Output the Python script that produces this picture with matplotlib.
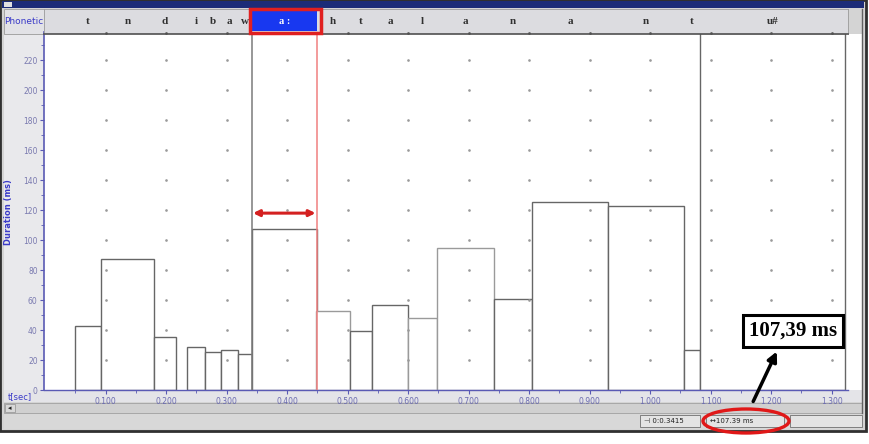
import numpy as np
import matplotlib
matplotlib.use("Agg")
import matplotlib.pyplot as plt
from matplotlib.patches import Rectangle, Ellipse, FancyArrowPatch

# segment data (times in s, durations in ms)
seg_labels = ['t', 'n', 'd', 'i', 'b', 'a', 'w', 'a :', 'h', 't', 'a', 'l',
              'a', 'n', 'a', 'n', 't', 'u#']
seg_start = [0.049, 0.092, 0.180, 0.234, 0.264, 0.291, 0.318, 0.3415, 0.448,
             0.503, 0.541, 0.599, 0.647, 0.742, 0.805, 0.930, 1.056, 1.082]
seg_end = [0.092, 0.180, 0.216, 0.264, 0.291, 0.318, 0.3415, 0.4489, 0.503,
           0.541, 0.599, 0.647, 0.742, 0.805, 0.930, 1.056, 1.082, 1.322]
duration_ms = [42.5, 87.5, 35.5, 29.0, 25.5, 27.0, 24.0, 107.39, 52.5, 39.5,
               56.5, 47.8, 95.0, 61.0, 125.5, 122.7, 27.0, 238.0]
selected = 7  # the "a :" interval

x_ticks = [0.1, 0.2, 0.3, 0.4, 0.5, 0.6, 0.7, 0.8, 0.9, 1.0, 1.1, 1.2, 1.3]
y_ticks = [0, 20, 40, 60, 80, 100, 120, 140, 160, 180, 200, 220]
callout_text = "107,39 ms"
status_cursor = "\u22a3 0:0.3415"
status_sel = "\u2194107.39 ms"

W, H = 870, 444
AXIS_BLUE = '#5a5ab4'

fig = plt.figure(figsize=(W / 100, H / 100), dpi=100)


def px_axes(x0, y0, x1, y1, z=1):
    return fig.add_axes([x0 / W, 1 - y1 / H, (x1 - x0) / W, (y1 - y0) / H], zorder=z)


# window chrome in pixel coordinates
bg = px_axes(0, 0, W, H, z=0)
bg.set_xlim(0, W); bg.set_ylim(H, 0); bg.axis('off')
bg.add_patch(Rectangle((0, 0), 866, 431, fc='#d4d4d4', ec='none'))
bg.add_patch(Rectangle((0, 0), 866, 431, fc='none', ec='#303030', lw=2))
bg.add_patch(Rectangle((2, 1), 862, 7, fc='#1c2c78', ec='none'))
bg.add_patch(Rectangle((4, 2), 8, 5, fc='#e0e0e0', ec='none'))
bg.add_patch(Rectangle((4, 9), 40, 381, fc='#e9e9ec', ec='none'))
bg.add_patch(Rectangle((4, 9), 40, 25, fc='#e2e2e6', ec='#9a9a9a', lw=0.6))
bg.add_patch(Rectangle((44, 34), 818, 356, fc='white', ec='none'))
bg.add_patch(Rectangle((4, 390), 858, 12, fc='#e4e4e8', ec='none'))
bg.add_patch(Rectangle((4, 403), 858, 10, fc='#d0d0d0', ec='#a0a0a0', lw=0.6))
bg.add_patch(Rectangle((5, 404), 10, 8, fc='#d8d8d8', ec='#909090', lw=0.5))
bg.text(10, 408, '\u25c2', fontsize=5, ha='center', va='center', color='#202020')
bg.plot([862, 862], [9, 413], color='#606060', lw=1)
bg.text(24, 21, 'Phonetic', fontsize=6.5, color='#3a3ac8', ha='center', va='center')
bg.text(4, 212, 'Duration (ms)', fontsize=6, color='#3a3ac8', rotation=90,
        ha='left', va='center', fontweight='bold')
bg.text(20, 397, 't[sec]', fontsize=6, color='#3a3ac8', ha='center', va='center')

# status bar boxes
bg.add_patch(Rectangle((4, 414), 858, 15, fc='#d8d8d8', ec='none'))
bg.add_patch(Rectangle((640, 415), 60, 12, fc='#e4e4e4', ec='#707070', lw=0.6))
bg.add_patch(Rectangle((706, 415), 78, 12, fc='#e4e4e4', ec='#707070', lw=0.6))
bg.add_patch(Rectangle((790, 415), 72, 12, fc='#e4e4e4', ec='#707070', lw=0.6))
bg.text(644, 421, status_cursor, fontsize=5, ha='left', va='center', color='#202020')
bg.text(710, 421, status_sel, fontsize=5, ha='left', va='center', color='#202020')

# main duration plot
x_lo, x_hi = -0.002, 1.327
ax = px_axes(44, 32.5, 848, 390, z=2)
ax.set_facecolor('white')
ax.set_xlim(x_lo, x_hi)
ax.set_ylim(0, 238.5)

for i, (s, e, d) in enumerate(zip(seg_start, seg_end, duration_ms)):
    ec = '#9a9a9a' if i in (8, 11, 12) else '#666666'
    ax.bar(s, d, width=e - s, align='edge', facecolor='white', edgecolor=ec,
           linewidth=1.0, zorder=2)

# selected interval: full-height boundaries
s_sel, e_sel = seg_start[selected], seg_end[selected]
ax.axvline(s_sel, color='#7a7a7a', lw=1.1, zorder=3)
ax.axvline(e_sel, color='#f08080', lw=1.1, zorder=3)
ax.annotate('', xy=(s_sel + 0.002, 118), xytext=(e_sel - 0.002, 118),
            arrowprops=dict(arrowstyle='<|-|>', color='#d42020', lw=2.2,
                            mutation_scale=9, shrinkA=0, shrinkB=0), zorder=5)

# dotted grid
gx, gy = np.meshgrid(x_ticks, y_ticks[1:])
ax.plot(gx.ravel(), gy.ravel(), ls='none', marker='.', ms=1.8, color='#9a9a9a', zorder=4)

ax.set_xticks(x_ticks)
ax.set_xticklabels([f'{v:.3f}' for v in x_ticks])
ax.set_xticks(np.arange(0.05, 1.35, 0.1), minor=True)
ax.set_yticks(y_ticks)
ax.set_yticks(np.arange(10, 240, 20), minor=True)
ax.tick_params(axis='both', colors=AXIS_BLUE, labelsize=5.5, length=3, width=0.8, pad=1.5)
ax.tick_params(axis='both', which='minor', colors=AXIS_BLUE, length=2, width=0.6)
ax.tick_params(axis='x', labelcolor='#6a6ab0', pad=2)
ax.tick_params(axis='y', labelcolor='#7a7ab0')
for side in ['top', 'right']:
    ax.spines[side].set_visible(False)
ax.spines['left'].set_color(AXIS_BLUE)
ax.spines['bottom'].set_color(AXIS_BLUE)
ax.spines['left'].set_linewidth(1.2)
ax.spines['bottom'].set_linewidth(1.0)

# phonetic tier
tier = px_axes(44, 9, 848, 34, z=3)
tier.set_xlim(x_lo, x_hi)
tier.set_ylim(0, 1)
tier.set_facecolor('#dcdce0')
tier.set_xticks([]); tier.set_yticks([])
for sp in tier.spines.values():
    sp.set_color('#9a9a9a'); sp.set_linewidth(0.6)
tier.spines['bottom'].set_color('#505050')
tier.spines['bottom'].set_linewidth(1.2)
tier.plot(x_ticks, [0.04] * len(x_ticks), ls='none', marker='.', ms=2, color='#606060')
for i, lab in enumerate(seg_labels):
    mid = (seg_start[i] + seg_end[i]) / 2
    if i == selected:
        tier.add_patch(Rectangle((s_sel, 0.12), e_sel - s_sel, 0.84, fc='#1838f0',
                                 ec='none', zorder=2))
        tier.add_patch(Rectangle((s_sel - 0.003, 0.02), e_sel - s_sel + 0.01, 0.96,
                                 fc='none', ec='#e02020', lw=2.5, zorder=3,
                                 clip_on=False))
        tier.text(mid, 0.52, lab, ha='center', va='center', fontsize=7.5,
                  color='white', family='Liberation Serif', fontweight='bold', zorder=4)
    else:
        tier.text(mid, 0.52, lab, ha='center', va='center', fontsize=8,
                  color='#303030', family='Liberation Serif', fontweight='bold')

# callout overlay
ov = px_axes(0, 0, W, H, z=6)
ov.set_xlim(0, W); ov.set_ylim(H, 0); ov.axis('off')
ov.patch.set_alpha(0)
ov.text(793, 331, callout_text, ha='center', va='center', fontsize=15,
        family='Liberation Serif', fontweight='bold', color='black',
        bbox=dict(boxstyle='square,pad=0.3', fc='white', ec='black', lw=2.2))
ov.add_patch(FancyArrowPatch((752, 404), (778, 349), arrowstyle='-|>',
                             mutation_scale=14, color='black', lw=2.5))
ov.add_patch(Ellipse((746, 421), 86, 24, fc='none', ec='#e01818', lw=2.4))

fig.savefig('out.png', dpi=100)
